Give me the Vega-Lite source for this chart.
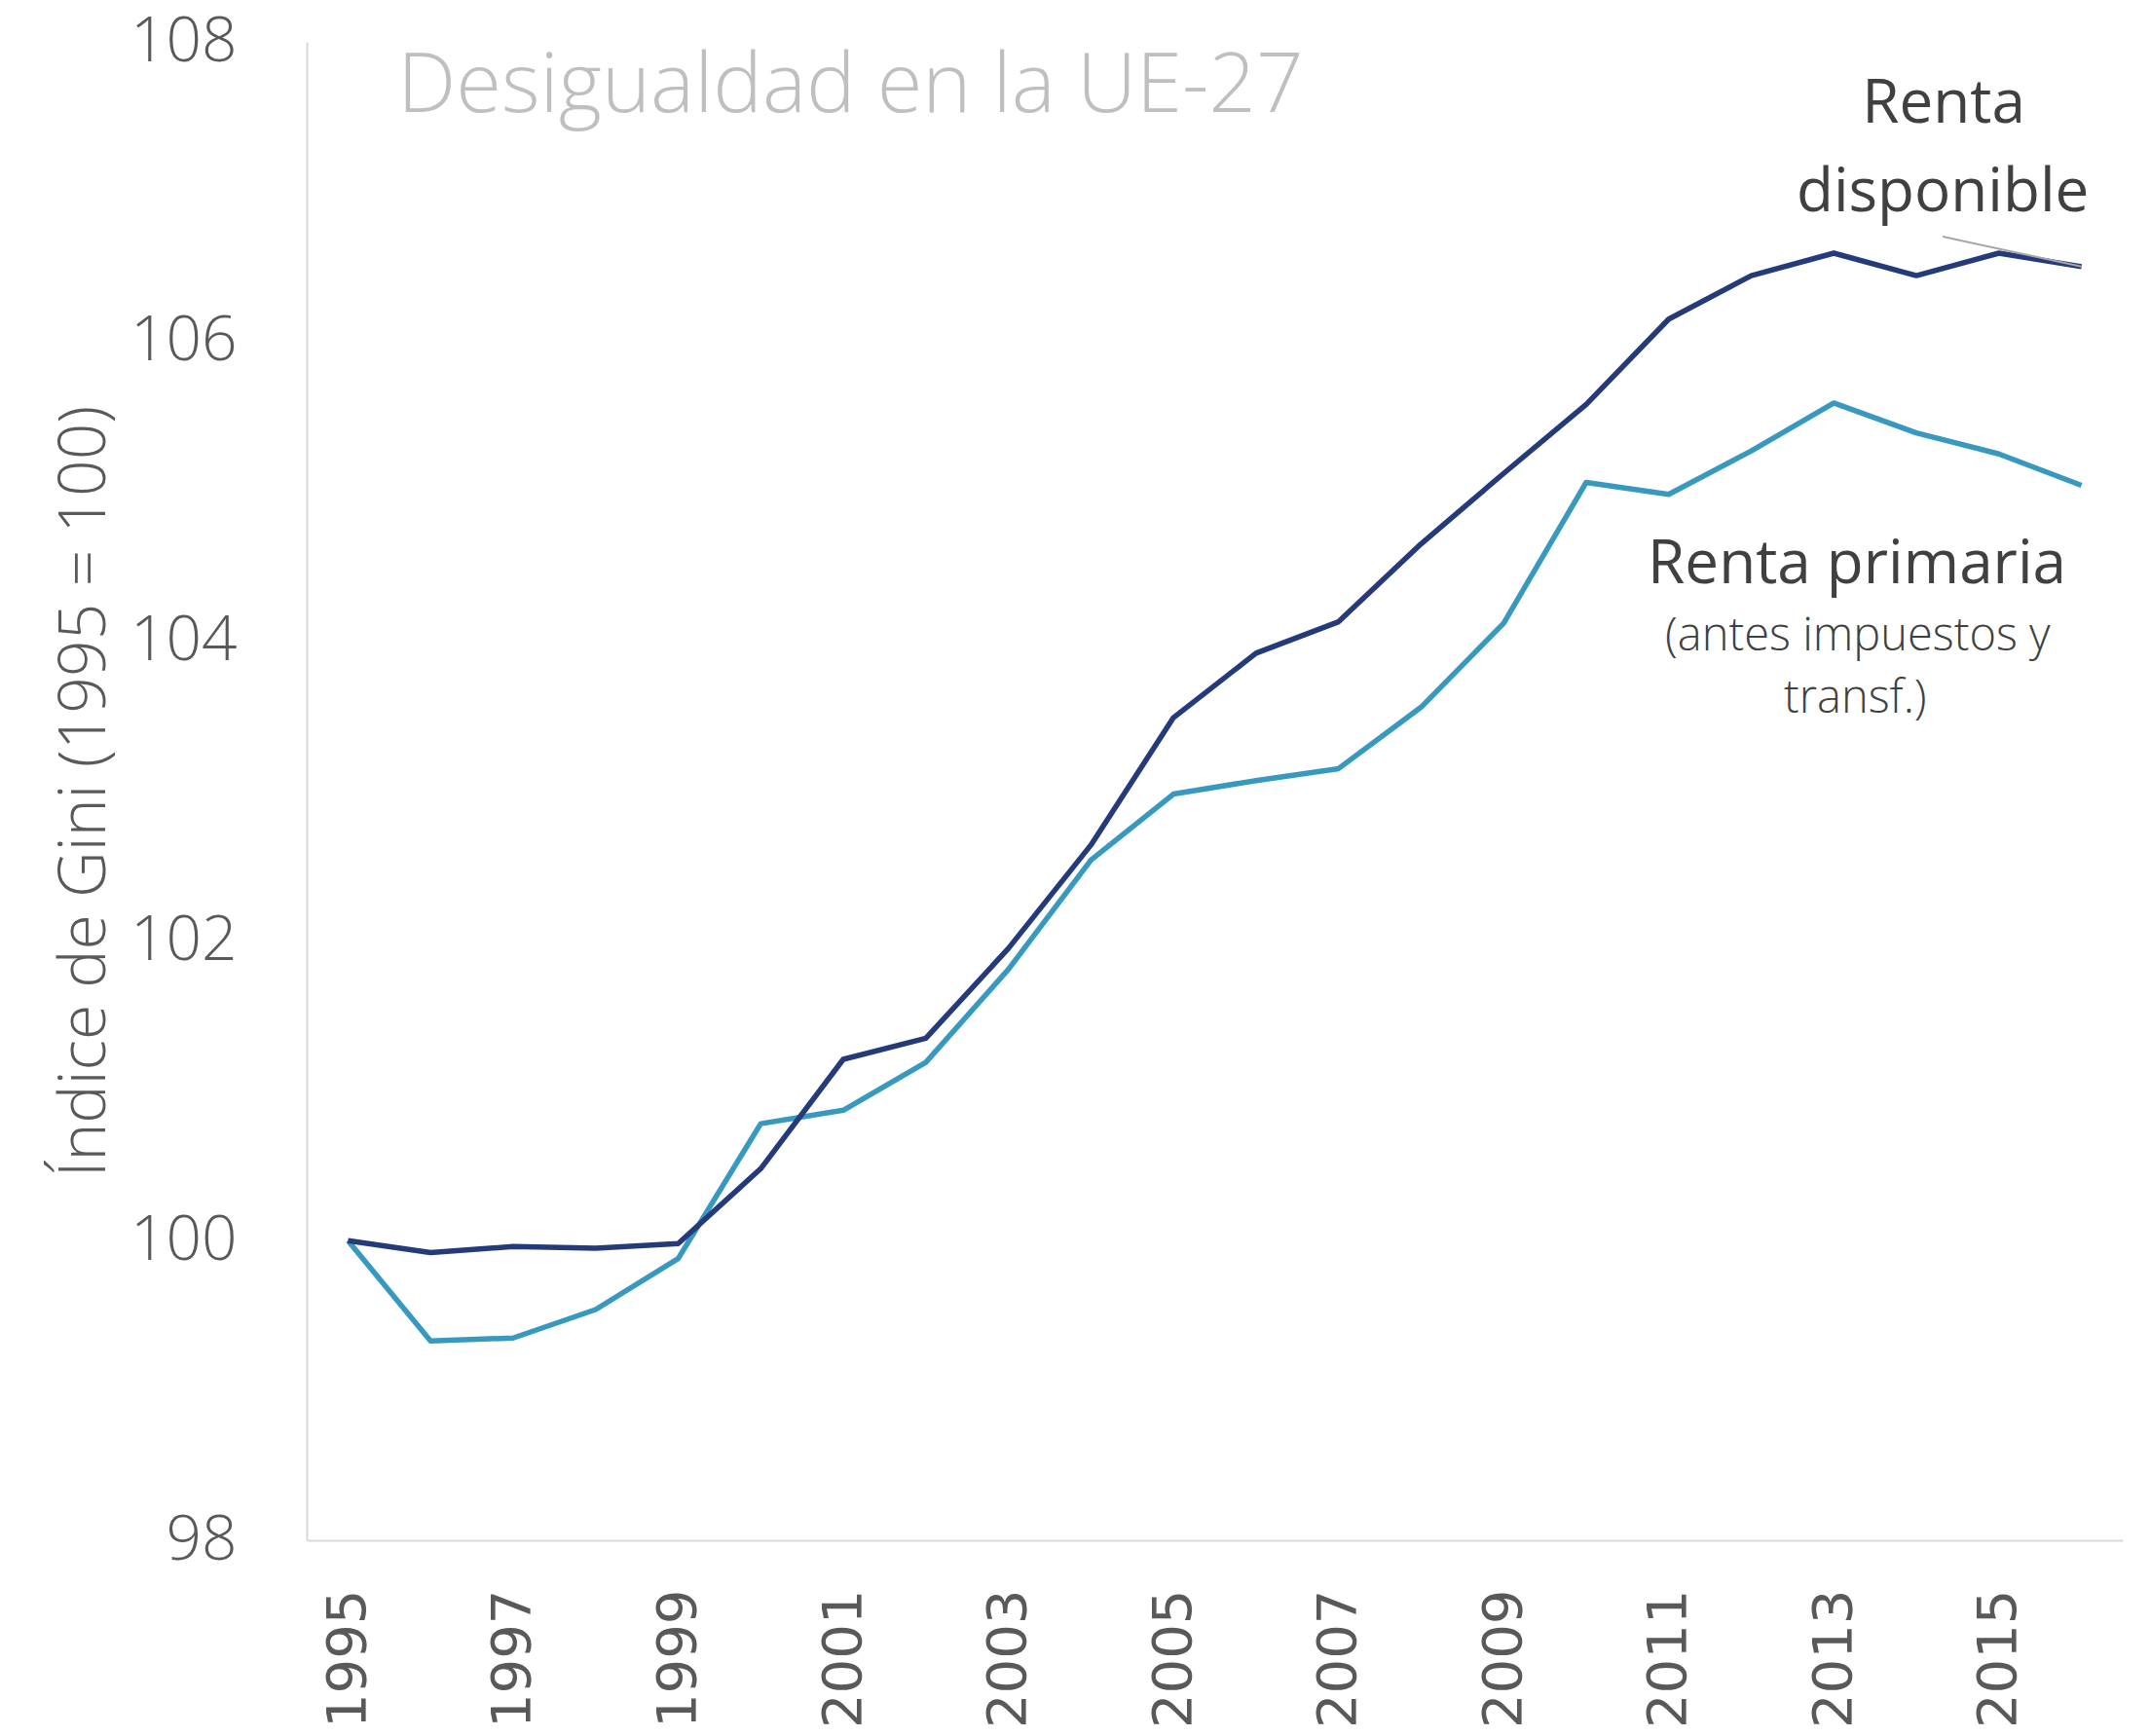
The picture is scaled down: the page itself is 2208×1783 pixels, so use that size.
{
  "$schema": "https://vega.github.io/schema/vega-lite/v6.json",
  "width": 1865,
  "height": 1539,
  "autosize": {"type": "none"},
  "padding": {"left": 315, "top": 43, "right": 28, "bottom": 201},
  "background": "white",
  "datasets": {
    "series": [
      {"year": 1995, "serie": "Renta disponible", "value": 100.0},
      {"year": 1996, "serie": "Renta disponible", "value": 99.92},
      {"year": 1997, "serie": "Renta disponible", "value": 99.96},
      {"year": 1998, "serie": "Renta disponible", "value": 99.95},
      {"year": 1999, "serie": "Renta disponible", "value": 99.98},
      {"year": 2000, "serie": "Renta disponible", "value": 100.48},
      {"year": 2001, "serie": "Renta disponible", "value": 101.21},
      {"year": 2002, "serie": "Renta disponible", "value": 101.35},
      {"year": 2003, "serie": "Renta disponible", "value": 101.95},
      {"year": 2004, "serie": "Renta disponible", "value": 102.64},
      {"year": 2005, "serie": "Renta disponible", "value": 103.49},
      {"year": 2006, "serie": "Renta disponible", "value": 103.92},
      {"year": 2007, "serie": "Renta disponible", "value": 104.13},
      {"year": 2008, "serie": "Renta disponible", "value": 104.65},
      {"year": 2009, "serie": "Renta disponible", "value": 105.12},
      {"year": 2010, "serie": "Renta disponible", "value": 105.58},
      {"year": 2011, "serie": "Renta disponible", "value": 106.15},
      {"year": 2012, "serie": "Renta disponible", "value": 106.44},
      {"year": 2013, "serie": "Renta disponible", "value": 106.59},
      {"year": 2014, "serie": "Renta disponible", "value": 106.44},
      {"year": 2015, "serie": "Renta disponible", "value": 106.59},
      {"year": 2016, "serie": "Renta disponible", "value": 106.50},
      {"year": 1995, "serie": "Renta primaria", "value": 100.0},
      {"year": 1996, "serie": "Renta primaria", "value": 99.33},
      {"year": 1997, "serie": "Renta primaria", "value": 99.35},
      {"year": 1998, "serie": "Renta primaria", "value": 99.54},
      {"year": 1999, "serie": "Renta primaria", "value": 99.88},
      {"year": 2000, "serie": "Renta primaria", "value": 100.78},
      {"year": 2001, "serie": "Renta primaria", "value": 100.87},
      {"year": 2002, "serie": "Renta primaria", "value": 101.19},
      {"year": 2003, "serie": "Renta primaria", "value": 101.81},
      {"year": 2004, "serie": "Renta primaria", "value": 102.54},
      {"year": 2005, "serie": "Renta primaria", "value": 102.98},
      {"year": 2006, "serie": "Renta primaria", "value": 103.07},
      {"year": 2007, "serie": "Renta primaria", "value": 103.15},
      {"year": 2008, "serie": "Renta primaria", "value": 103.56},
      {"year": 2009, "serie": "Renta primaria", "value": 104.12},
      {"year": 2010, "serie": "Renta primaria", "value": 105.06},
      {"year": 2011, "serie": "Renta primaria", "value": 104.98},
      {"year": 2012, "serie": "Renta primaria", "value": 105.27},
      {"year": 2013, "serie": "Renta primaria", "value": 105.59},
      {"year": 2014, "serie": "Renta primaria", "value": 105.39},
      {"year": 2015, "serie": "Renta primaria", "value": 105.25},
      {"year": 2016, "serie": "Renta primaria", "value": 105.04}
    ],
    "titleText": [
      {"x": 1995.6, "y": 107.53, "text": "Desigualdad en la UE-27"}
    ],
    "bigLabels": [
      {"x": 2014.33, "y": 107.46, "text": "Renta"},
      {"x": 2014.32, "y": 106.87, "text": "disponible"},
      {"x": 2013.28, "y": 104.39, "text": "Renta primaria"}
    ],
    "smallLabels": [
      {"x": 2013.29, "y": 103.94, "text": "(antes impuestos y"},
      {"x": 2013.26, "y": 103.52, "text": "transf.)"}
    ],
    "leader": [
      {"x": 2014.32, "y": 106.70, "x2": 2016, "y2": 106.50}
    ]
  },
  "layer": [
    {
      "data": {"name": "series"},
      "transform": [{"filter": "datum.serie === 'Renta primaria'"}],
      "mark": {"type": "line", "color": "#3899c0", "strokeWidth": 5.5, "strokeJoin": "round"},
      "encoding": {
        "x": {
          "field": "year", "type": "quantitative",
          "scale": {"domain": [1994.5, 2016.5], "nice": false, "zero": false},
          "axis": {
            "title": null,
            "values": [1995, 1997, 1999, 2001, 2003, 2005, 2007, 2009, 2011, 2013, 2015],
            "format": "d",
            "labelAngle": -90,
            "labelFont": "DejaVu Sans",
            "labelFontSize": 56,
            "labelColor": "#595959",
            "labelPadding": 50,
            "labelFlush": false,
            "labelOverlap": false,
            "labelBound": false,
            "ticks": false,
            "grid": false,
            "domainColor": "#d9d9d9",
            "domainWidth": 2
          }
        },
        "y": {
          "field": "value", "type": "quantitative",
          "scale": {"domain": [98, 108], "nice": false, "zero": false},
          "axis": {
            "title": "Índice de Gini (1995 = 100)",
            "values": [98, 100, 102, 104, 106, 108],
            "format": "d",
            "labelFont": "Open Sans",
            "labelFontWeight": 300,
            "labelFontSize": 64,
            "labelColor": "#595959",
            "labelPadding": 72,
            "labelFlush": false,
            "labelOverlap": false,
            "labelBound": false,
            "ticks": false,
            "grid": false,
            "domainColor": "#d9d9d9",
            "domainWidth": 2,
            "titleFont": "Open Sans",
            "titleFontWeight": 300,
            "titleFontSize": 66,
            "titleColor": "#595959",
            "titlePadding": 12
          }
        }
      }
    },
    {
      "data": {"name": "series"},
      "transform": [{"filter": "datum.serie === 'Renta disponible'"}],
      "mark": {"type": "line", "color": "#253a7b", "strokeWidth": 5.5, "strokeJoin": "round"},
      "encoding": {
        "x": {"field": "year", "type": "quantitative"},
        "y": {"field": "value", "type": "quantitative"}
      }
    },
    {
      "data": {"name": "leader"},
      "mark": {"type": "rule", "color": "#a6a6a6", "strokeWidth": 2},
      "encoding": {
        "x": {"field": "x", "type": "quantitative"},
        "y": {"field": "y", "type": "quantitative"},
        "x2": {"field": "x2"},
        "y2": {"field": "y2"}
      }
    },
    {
      "data": {"name": "titleText"},
      "mark": {"type": "text", "font": "Open Sans", "fontSize": 85, "fontWeight": 300, "color": "#bfbfbf", "align": "left", "baseline": "alphabetic"},
      "encoding": {
        "x": {"field": "x", "type": "quantitative"},
        "y": {"field": "y", "type": "quantitative"},
        "text": {"field": "text"}
      }
    },
    {
      "data": {"name": "bigLabels"},
      "mark": {"type": "text", "font": "Open Sans", "fontSize": 62, "fontWeight": 400, "color": "#404040", "align": "center", "baseline": "alphabetic"},
      "encoding": {
        "x": {"field": "x", "type": "quantitative"},
        "y": {"field": "y", "type": "quantitative"},
        "text": {"field": "text"}
      }
    },
    {
      "data": {"name": "smallLabels"},
      "mark": {"type": "text", "font": "Open Sans", "fontSize": 47, "fontWeight": 300, "color": "#404040", "align": "center", "baseline": "alphabetic"},
      "encoding": {
        "x": {"field": "x", "type": "quantitative"},
        "y": {"field": "y", "type": "quantitative"},
        "text": {"field": "text"}
      }
    }
  ],
  "config": {
    "view": {"stroke": null}
  }
}
